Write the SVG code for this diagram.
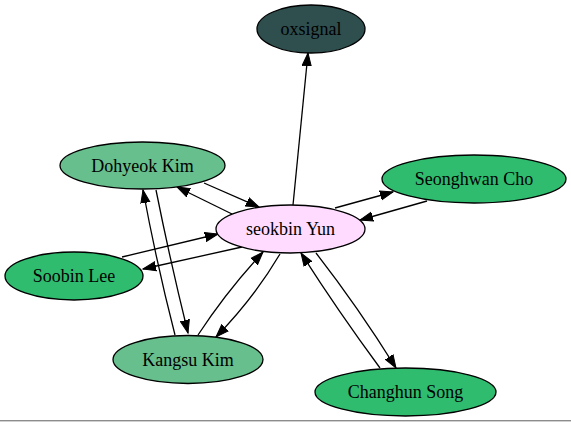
<svg xmlns="http://www.w3.org/2000/svg" width="571" height="422" viewBox="0 0 571 422">
<defs>
<style>
.n ellipse{stroke:#000;stroke-width:1.3}
.n text{font-family:"Liberation Serif","Times New Roman",serif;font-size:18px;text-anchor:middle;fill:#000}
.e line,.e path{stroke:#000;stroke-width:1.3;fill:none;marker-end:url(#ah)}
</style>
<marker id="ah" markerUnits="userSpaceOnUse" markerWidth="15" markerHeight="12" viewBox="0 -6 15 12" refX="13" refY="0" orient="auto">
<path d="M0,-4.6 L13,0 L0,4.6 Z" fill="#000" stroke="#000" stroke-width="1"/>
</marker>
</defs>
<rect x="0" y="0" width="571" height="422" fill="#fff"/>
<rect x="0" y="420" width="571" height="1" fill="#8c8c8c"/>
<rect x="0" y="421" width="571" height="1" fill="#d0d0d0"/>
<g id="edges" class="e">
<line x1="293" y1="205" x2="308" y2="53"/>
<line x1="204" y1="183" x2="259" y2="207"/>
<line x1="232" y1="214" x2="177" y2="187"/>
<line x1="122" y1="257" x2="218" y2="234"/>
<line x1="242" y1="247" x2="143" y2="269"/>
<path d="M175,335 Q157,265 143,190"/>
<path d="M156,190 Q170,260 188,333"/>
<path d="M198,335 Q226,292 263,252"/>
<path d="M280,254 Q254,298 216,337"/>
<line x1="335" y1="208" x2="393" y2="192"/>
<line x1="427" y1="201" x2="360" y2="220"/>
<path d="M316,253 Q358,307 396,368"/>
<path d="M380,368 Q338,311 301,253"/>
</g>
<g id="oxsignal" class="n"><ellipse cx="311" cy="29" rx="54" ry="24" fill="#2f4f4f"/><text x="311" y="35">oxsignal</text></g>
<g id="seokbin" class="n"><ellipse cx="290.5" cy="229" rx="74.5" ry="24" fill="#ffdcff"/><text x="290.5" y="235">seokbin Yun</text></g>
<g id="dohyeok" class="n"><ellipse cx="142.5" cy="165.5" rx="82.5" ry="23.5" fill="#66bf8c"/><text x="142.5" y="171.5">Dohyeok Kim</text></g>
<g id="soobin" class="n"><ellipse cx="74" cy="276" rx="69" ry="24" fill="#2fbc6f"/><text x="74" y="282">Soobin Lee</text></g>
<g id="kangsu" class="n"><ellipse cx="188" cy="359.5" rx="75" ry="24" fill="#66bf8c"/><text x="188" y="365.5">Kangsu Kim</text></g>
<g id="seonghwan" class="n"><ellipse cx="474" cy="179" rx="92" ry="24" fill="#2fbc6f"/><text x="474" y="185">Seonghwan Cho</text></g>
<g id="changhun" class="n"><ellipse cx="405.5" cy="392" rx="90.5" ry="24" fill="#2fbc6f"/><text x="405.5" y="398">Changhun Song</text></g>
</svg>
